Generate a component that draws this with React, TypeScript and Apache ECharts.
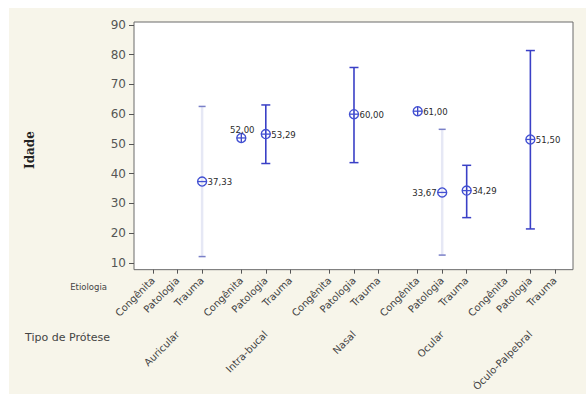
import React, { useEffect, useRef } from "react";
import * as echarts from "echarts";

// ---- data ----
const groups = ["Auricular", "Intra-bucal", "Nasal", "Ocular", "Óculo-Palpebral"];
const etiologias = ["Congênita", "Patologia", "Trauma"];
// mean per group x etiologia (null = no data)
const means: (number | null)[][] = [
  [null, null, 37.33],
  [52.0, 53.29, null],
  [null, 60.0, null],
  [61.0, 33.67, 34.29],
  [null, 51.5, null],
];
const lowers: (number | null)[][] = [
  [null, null, 12.1],
  [null, 43.4, null],
  [null, 43.7, null],
  [null, 12.6, 25.2],
  [null, 21.4, null],
];
const uppers: (number | null)[][] = [
  [null, null, 62.6],
  [null, 63.1, null],
  [null, 75.7, null],
  [null, 54.9, 42.8],
  [null, 81.4, null],
];
const yTicks = [10, 20, 30, 40, 50, 60, 70, 80, 90];

const GROUP_STEP = 3.6;
const BLUE = "#3a40c6";
const FAINT = "#e6e8f5";

const tickPos: number[] = [];
const tickName: string[] = [];
groups.forEach((_, g) =>
  etiologias.forEach((e, i) => {
    tickPos.push(g * GROUP_STEP + i);
    tickName.push(e);
  })
);
const groupPos = groups.map((_, g) => g * GROUP_STEP + 1);

type Item = { x: number; m: number; lo: number | null; hi: number | null; faint: boolean; side: string };
const items: Item[] = [];
groups.forEach((gName, g) =>
  etiologias.forEach((e, i) => {
    const m = means[g][i];
    if (m == null) return;
    const lo = lowers[g][i];
    const hi = uppers[g][i];
    const faint = (gName === "Auricular" && e === "Trauma") || (gName === "Ocular" && e === "Patologia");
    let side = "right";
    if (gName === "Intra-bucal" && e === "Congênita") side = "top";
    if (gName === "Ocular" && e === "Patologia") side = "left";
    items.push({ x: g * GROUP_STEP + i, m, lo, hi, faint, side });
  })
);

const fmt = (v: number) => v.toFixed(2).replace(".", ",");

function renderItem(params: any, api: any) {
  const it = items[params.dataIndex];
  const c = api.coord([it.x, it.m]);
  const r = 4.5;
  const children: any[] = [];
  if (it.lo != null && it.hi != null) {
    const pTop = api.coord([it.x, it.hi]);
    const pBot = api.coord([it.x, it.lo]);
    const lineColor = it.faint ? FAINT : BLUE;
    const capColor = it.faint ? "#7a80c8" : BLUE;
    const capW = it.faint ? 3.5 : 4.5;
    children.push({
      type: "line",
      shape: { x1: pTop[0], y1: pTop[1], x2: pBot[0], y2: pBot[1] },
      style: { stroke: lineColor, lineWidth: it.faint ? 2.5 : 1.6 },
    });
    children.push({
      type: "line",
      shape: { x1: pTop[0] - capW, y1: pTop[1], x2: pTop[0] + capW, y2: pTop[1] },
      style: { stroke: capColor, lineWidth: 1.5 },
    });
    children.push({
      type: "line",
      shape: { x1: pBot[0] - capW, y1: pBot[1], x2: pBot[0] + capW, y2: pBot[1] },
      style: { stroke: capColor, lineWidth: 1.5 },
    });
  } else {
    children.push({
      type: "line",
      shape: { x1: c[0], y1: c[1] - r, x2: c[0], y2: c[1] + r },
      style: { stroke: BLUE, lineWidth: 1.3 },
    });
  }
  children.push({
    type: "circle",
    shape: { cx: c[0], cy: c[1], r },
    style: { stroke: "#4250d2", fill: "none", lineWidth: 1.4 },
  });
  children.push({
    type: "line",
    shape: { x1: c[0] - r, y1: c[1], x2: c[0] + r, y2: c[1] },
    style: { stroke: "#4250d2", lineWidth: 1.3 },
  });
  let tx = c[0] + r + 1;
  let ty = c[1];
  let align = "left";
  let valign = "middle";
  if (it.side === "left") {
    tx = c[0] - r - 1;
    align = "right";
  } else if (it.side === "top") {
    tx = c[0] + 1;
    ty = c[1] - 3;
    align = "center";
    valign = "bottom";
  }
  children.push({
    type: "text",
    x: tx,
    y: ty,
    style: {
      text: fmt(it.m),
      fill: "#2a2a2a",
      font: "9.5px 'DejaVu Sans Condensed', 'DejaVu Sans', sans-serif",
      textAlign: align,
      textVerticalAlign: valign,
    },
  });
  return { type: "group", children };
}

export default function App() {
  const ref = useRef<HTMLDivElement>(null);
  useEffect(() => {
    document.body.style.margin = "0";
    if (!ref.current) return;
    const chart = echarts.init(ref.current, undefined, { renderer: "svg" });
    const labelFont = { fontFamily: "'DejaVu Sans', sans-serif", color: "#444" };
    chart.setOption({
      animation: false,
      backgroundColor: "#f7f5ea",
      grid: {
        left: 125,
        top: 14,
        width: 439,
        height: 254,
        show: true,
        backgroundColor: "#ffffff",
        borderColor: "#6a6a6a",
        borderWidth: 1,
      },
      xAxis: [
        {
          type: "value",
          min: -0.78,
          max: 17.14,
          axisLine: { show: false, onZero: false },
          splitLine: { show: false },
          axisTick: { show: true, customValues: tickPos, length: 4, lineStyle: { color: "#555" } },
          axisLabel: {
            customValues: tickPos,
            rotate: 45,
            margin: 9,
            fontSize: 10,
            ...labelFont,
            formatter: (v: number) => {
              const k = tickPos.findIndex((p) => Math.abs(p - v) < 1e-6);
              return k >= 0 ? tickName[k] : "";
            },
          },
        },
        {
          type: "value",
          position: "bottom",
          min: -0.78,
          max: 17.14,
          axisLine: { show: false, onZero: false },
          splitLine: { show: false },
          axisTick: { show: false },
          axisLabel: {
            customValues: groupPos,
            rotate: 45,
            margin: 63,
            fontSize: 10,
            ...labelFont,
            formatter: (v: number) => {
              const k = groupPos.findIndex((p) => Math.abs(p - v) < 1e-6);
              return k >= 0 ? groups[k] : "";
            },
          },
        },
      ],
      yAxis: {
        type: "value",
        min: 7.7,
        max: 91,
        axisLine: { show: false, onZero: false },
        splitLine: { show: false },
        axisTick: { show: true, customValues: yTicks, length: 5, lineStyle: { color: "#555" } },
        axisLabel: { customValues: yTicks, fontSize: 12, margin: 8, ...labelFont, color: "#555" },
      },
      graphic: [
        {
          type: "text",
          x: 98,
          y: 279,
          style: {
            text: "Etiologia",
            fill: "#444",
            font: "8.5px 'DejaVu Sans', sans-serif",
            textAlign: "right",
            textVerticalAlign: "middle",
          },
        },
        {
          type: "text",
          x: 101,
          y: 329,
          style: {
            text: "Tipo de Prótese",
            fill: "#444",
            font: "11px 'DejaVu Sans', sans-serif",
            textAlign: "right",
            textVerticalAlign: "middle",
          },
        },
        {
          type: "text",
          x: 21,
          y: 142,
          rotation: Math.PI / 2,
          style: {
            text: "Idade",
            fill: "#222",
            font: "bold 12px 'DejaVu Serif', serif",
            textAlign: "center",
            textVerticalAlign: "middle",
          },
        },
      ],
      series: [
        {
          type: "custom",
          xAxisIndex: 0,
          yAxisIndex: 0,
          renderItem,
          data: items.map((it) => [it.x, it.m]),
          z: 5,
        },
      ],
    });
    return () => chart.dispose();
  }, []);
  return (
    <div style={{ position: "relative", width: 586, height: 394, background: "#ffffff" }}>
      <div ref={ref} style={{ position: "absolute", left: 9, top: 8, width: 577, height: 386 }} />
    </div>
  );
}
